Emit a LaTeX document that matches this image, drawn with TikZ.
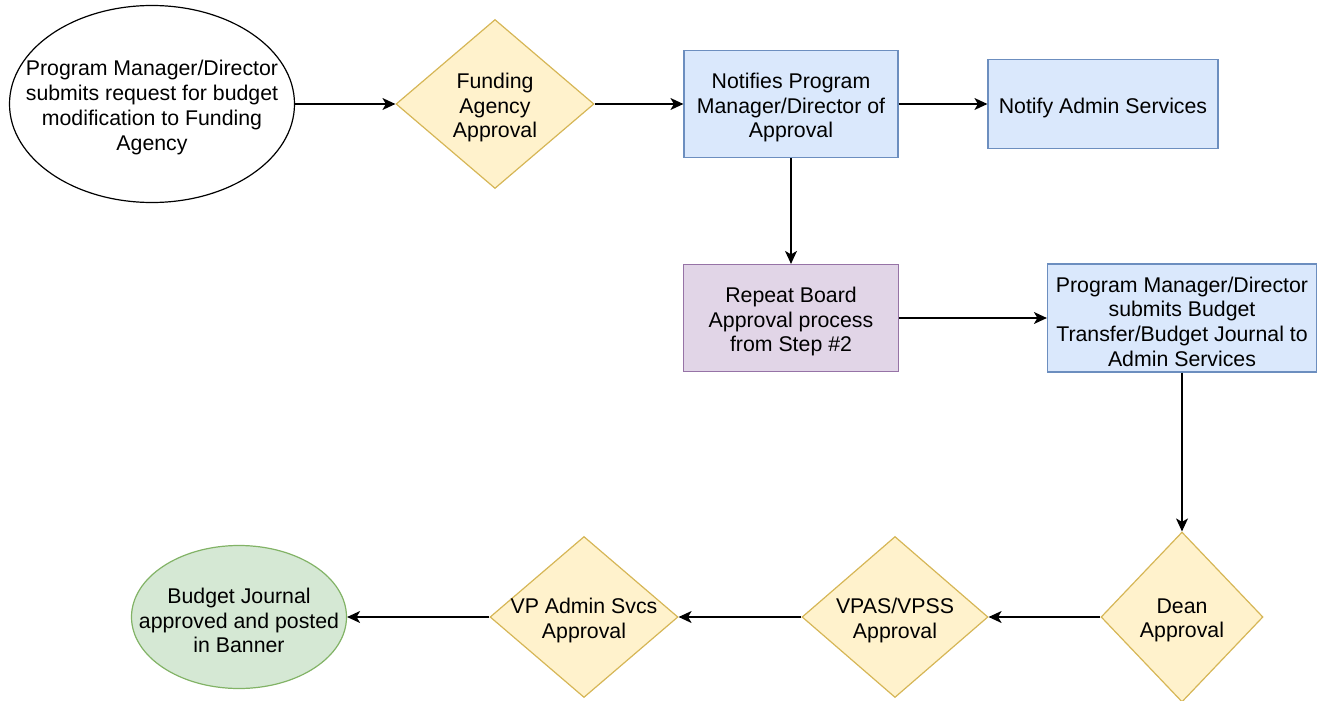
\documentclass[tikz,border=0pt]{standalone}
\usepackage{fontspec}
\setmainfont{Liberation Sans}
\usetikzlibrary{shapes.geometric,arrows.meta}
\definecolor{yelfill}{HTML}{FFF2CC}
\definecolor{yelline}{HTML}{D6B656}
\definecolor{blufill}{HTML}{DAE8FC}
\definecolor{bluline}{HTML}{6C8EBF}
\definecolor{purfill}{HTML}{E1D5E7}
\definecolor{purline}{HTML}{9673A6}
\definecolor{grnfill}{HTML}{D5E8D4}
\definecolor{grnline}{HTML}{82B366}
\begin{document}
\begin{tikzpicture}[x=1pt, y=-1pt,
	txt/.style = {align=center, inner sep=0pt, yshift=-3.5pt, font=\fontsize{21.3}{24.7}\selectfont},
	base/.style = {draw, line width=1.2pt, inner sep=0pt},
	oval/.style = {base, ellipse},
	check/.style = {base, diamond, draw=yelline, fill=yelfill},
	bluebox/.style = {base, rectangle, draw=bluline, fill=blufill},
	purbox/.style = {base, rectangle, draw=purline, fill=purfill},
	conn/.style = {line width=1.2pt, -{Stealth[length=13pt, width=12pt, inset=3.5pt]}}]
		\useasboundingbox (0,0) rectangle (1325,701);
		% Nodes
		\node[oval, minimum width=285pt, minimum height=197pt,
			label={[txt]center:Program Manager/Director\\submits request for budget\\modification to Funding\\Agency}] (req) at (152,104) {};
		\node[check, minimum width=198pt, minimum height=169pt,
			label={[txt]center:Funding\\Agency\\Approval}] (fund) at (495,104) {};
		\node[bluebox, minimum width=214pt, minimum height=107pt,
			label={[txt]center:Notifies Program\\Manager/Director of\\Approval}] (notif) at (791,104) {};
		\node[bluebox, minimum width=230pt, minimum height=89pt,
			label={[txt]center:Notify Admin Services}] (admin) at (1103,104) {};
		\node[purbox, minimum width=215pt, minimum height=107pt,
			label={[txt]center:Repeat Board\\Approval process\\from Step \#2}] (rep) at (791,318) {};
		\node[bluebox, minimum width=269pt, minimum height=108pt,
			label={[txt]center:Program Manager/Director\\submits Budget\\Transfer/Budget Journal to\\Admin Services}] (pm) at (1182,318) {};
		\node[check, minimum width=162pt, minimum height=170pt,
			label={[txt]center:Dean\\Approval}] (dean) at (1182,617) {};
		\node[check, minimum width=186pt, minimum height=161pt,
			label={[txt]center:VPAS/VPSS\\Approval}] (vpas) at (895,617) {};
		\node[check, minimum width=188pt, minimum height=161pt,
			label={[txt]center:VP Admin Svcs\\Approval}] (vpad) at (584,617) {};
		\node[oval, draw=grnline, fill=grnfill, minimum width=215pt, minimum height=143pt,
			label={[txt]center:Budget Journal\\approved and posted\\in Banner}] (done) at (239,617) {};
		% Arrows
		\draw[conn] (req) -- (fund);	% req-fund
		\draw[conn] (fund) -- (notif);	% fund-notif
		\draw[conn] (notif) -- (admin);	% notif-admin
		\draw[conn] (notif) -- (rep);	% notif-rep
		\draw[conn] (rep) -- (pm);	% rep-pm
		\draw[conn] (pm) -- (dean);	% pm-dean
		\draw[conn] (dean) -- (vpas);	% dean-vpas
		\draw[conn] (vpas) -- (vpad);	% vpas-vpad
		\draw[conn] (vpad) -- (done);	% vpad-done
		\end{tikzpicture}
\end{document}
